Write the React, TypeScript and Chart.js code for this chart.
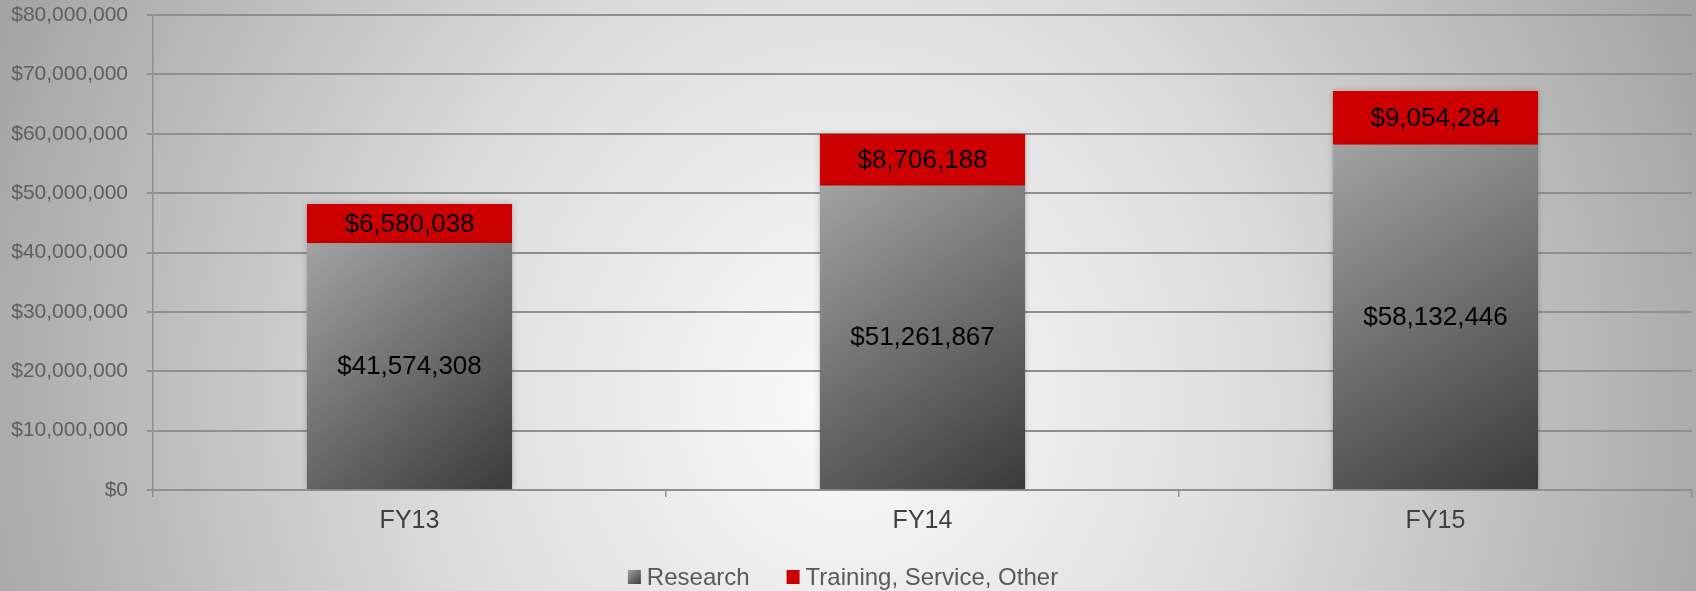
import React, { useEffect, useRef } from 'react';
import { Chart, registerables } from 'chart.js';

Chart.register(...registerables);

const categories = ['FY13', 'FY14', 'FY15'];
const researchValues = [41574308, 51261867, 58132446];
const trainingValues = [6580038, 8706188, 9054284];
const seriesNames = ['Research', 'Training, Service, Other'];
const yMin = 0;
const yMax = 80000000;
const yStep = 10000000;

const FONT = '"Liberation Sans", Arial, sans-serif';
const RED = '#cc0000';
const BAR_FRACTION = 0.4;

const fmtMoney = (v: number) => '$' + Math.round(v).toLocaleString('en-US');

const researchFill = (ctx: any) => {
  const chart = ctx.chart;
  const xs = chart.scales?.x;
  const ys = chart.scales?.y;
  if (ctx.type !== 'data' || !xs || !ys || !chart.chartArea) return '#707070';
  const i = ctx.dataIndex;
  const cx = xs.getPixelForValue(i);
  const w = (xs.width / categories.length) * BAR_FRACTION;
  const top = ys.getPixelForValue(researchValues[i]);
  const bot = ys.getPixelForValue(0);
  if (!isFinite(cx) || !isFinite(top) || !isFinite(bot)) return '#707070';
  const g = chart.ctx.createLinearGradient(cx - w / 2, top, cx + w / 2, bot);
  g.addColorStop(0, '#a2a2a2');
  g.addColorStop(0.5, '#6e6e6e');
  g.addColorStop(1, '#3a3a3a');
  return g;
};

const backgroundPlugin = {
  id: 'bgGradient',
  beforeDraw(chart: any) {
    const { ctx, width, height } = chart;
    ctx.save();
    const cx = 848;
    const cy = 400;
    const rx = 930;
    const ry = 1000;
    ctx.translate(cx, cy);
    ctx.scale(1, ry / rx);
    const g = ctx.createRadialGradient(0, 0, 0, 0, 0, rx);
    g.addColorStop(0, '#fbfbfb');
    g.addColorStop(0.45, '#dcdcdc');
    g.addColorStop(1, '#a2a2a2');
    ctx.fillStyle = g;
    ctx.fillRect(-cx - 10, (-cy - 10) * (rx / ry), width + 20, (height + 20) * (rx / ry) + 200);
    ctx.restore();
  },
};

const shadowPlugin = {
  id: 'barShadow',
  beforeDatasetsDraw(chart: any) {
    const ctx = chart.ctx;
    ctx.save();
    ctx.shadowColor = 'rgba(0,0,0,0.22)';
    ctx.shadowBlur = 6;
  },
  afterDatasetsDraw(chart: any) {
    chart.ctx.restore();
  },
};

const labelPlugin = {
  id: 'segmentLabels',
  afterDatasetsDraw(chart: any) {
    const ctx = chart.ctx;
    ctx.save();
    ctx.font = `26px ${FONT}`;
    ctx.fillStyle = '#000000';
    ctx.textAlign = 'center';
    ctx.textBaseline = 'middle';
    chart.data.datasets.forEach((ds: any, di: number) => {
      const meta = chart.getDatasetMeta(di);
      meta.data.forEach((el: any, i: number) => {
        const v = ds.data[i];
        const y = (el.y + el.base) / 2;
        ctx.fillText(fmtMoney(v), el.x, y + 1);
      });
    });
    ctx.restore();
  },
};

const legendPlugin = {
  id: 'customLegend',
  afterDraw(chart: any) {
    const ctx = chart.ctx;
    ctx.save();
    ctx.font = `24px ${FONT}`;
    ctx.textBaseline = 'middle';
    ctx.textAlign = 'left';
    const box = 13;
    const gapText = 6;
    const gapItem = 37;
    const widths = seriesNames.map((n) => ctx.measureText(n).width);
    const total = widths.reduce((a, b) => a + box + gapText + b, 0) + gapItem * (seriesNames.length - 1);
    let x = 843 - total / 2;
    const cy = 577;
    seriesNames.forEach((name, i) => {
      if (i === 0) {
        const g = ctx.createLinearGradient(x, cy - 7, x + box, cy + 7);
        g.addColorStop(0, '#a2a2a2');
        g.addColorStop(1, '#3a3a3a');
        ctx.fillStyle = g;
      } else {
        ctx.fillStyle = RED;
      }
      ctx.fillRect(x, cy - 7, box, 14);
      x += box + gapText;
      ctx.fillStyle = '#595959';
      ctx.fillText(name, x, cy + 1);
      x += widths[i] + gapItem;
    });
    ctx.restore();
  },
};

export default function App() {
  const canvasRef = useRef<HTMLCanvasElement | null>(null);

  useEffect(() => {
    if (!canvasRef.current) return;
    const chart = new Chart(canvasRef.current, {
      type: 'bar',
      data: {
        labels: categories,
        datasets: [
          {
            label: seriesNames[0],
            data: researchValues,
            backgroundColor: researchFill,
            borderWidth: 0,
            categoryPercentage: 1,
            barPercentage: BAR_FRACTION,
          },
          {
            label: seriesNames[1],
            data: trainingValues,
            backgroundColor: RED,
            borderWidth: 0,
            categoryPercentage: 1,
            barPercentage: BAR_FRACTION,
          },
        ],
      },
      options: {
        responsive: false,
        animation: false,
        events: [],
        layout: { padding: { top: 15, right: 4, left: 0, bottom: 0 } },
        plugins: {
          legend: { display: false },
          tooltip: { enabled: false },
          title: { display: false },
        },
        scales: {
          x: {
            stacked: true,
            offset: true,
            afterFit: (s: any) => {
              s.height = 101;
              s.paddingLeft = 0;
              s.paddingRight = 0;
            },
            grid: {
              drawOnChartArea: false,
              drawTicks: true,
              tickLength: 7,
              color: '#8f8f8f',
              lineWidth: 1.5,
            },
            border: { display: true, color: '#8f8f8f', width: 2 },
            ticks: {
              color: '#404040',
              font: { family: FONT, size: 25 },
              padding: 9,
            },
          },
          y: {
            stacked: true,
            min: yMin,
            max: yMax,
            afterFit: (s: any) => {
              s.width = 153;
              s.paddingTop = 0;
              s.paddingBottom = 0;
            },
            grid: {
              color: '#8f8f8f',
              lineWidth: 2,
              drawTicks: true,
              tickLength: 6,
            },
            border: { display: true, color: '#8f8f8f', width: 1.5 },
            ticks: {
              stepSize: yStep,
              color: '#5f5f5f',
              font: { family: FONT, size: 21 },
              padding: 19,
              callback: (v: any) => fmtMoney(Number(v)),
            },
          },
        },
      },
      plugins: [backgroundPlugin, shadowPlugin, labelPlugin, legendPlugin],
    });
    return () => chart.destroy();
  }, []);

  return (
    <div style={{ position: 'fixed', left: 0, top: 0, width: 1696, height: 591 }}>
      <canvas ref={canvasRef} width={1696} height={591} style={{ display: 'block', width: 1696, height: 591 }} />
    </div>
  );
}
